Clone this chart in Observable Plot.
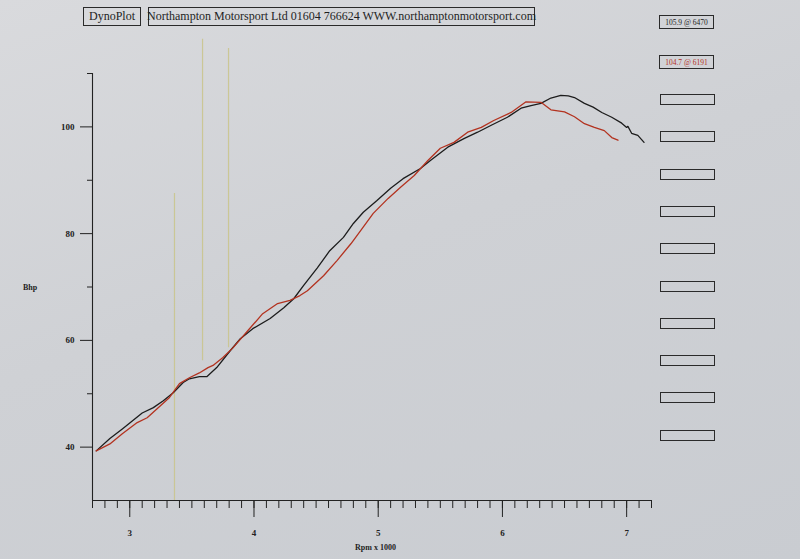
<!DOCTYPE html>
<html>
<head>
<meta charset="utf-8">
<script src="https://cdn.jsdelivr.net/npm/d3@7"></script>
<script src="https://cdn.jsdelivr.net/npm/@observablehq/plot@0.6"></script>
<style>
  html, body { margin: 0; padding: 0; }
  body { width: 800px; height: 559px; overflow: hidden; }
  #page { position: relative; width: 800px; height: 559px;
    background: linear-gradient(160deg, #d9dadd 0%, #cfd1d5 45%, #c9ccd1 100%);
    font-family: "Liberation Serif", "DejaVu Serif", serif; color: #1e1e1e; }
  #page svg { position: absolute; left: 0; top: 0; background: transparent; }
  .box { position: absolute; border: 1px solid #2a2a2a; box-sizing: border-box;
    display: flex; align-items: center; justify-content: center; white-space: nowrap; }
  .hdr { font-size: 12px; top: 7px; height: 19px; }
  .peak { font-size: 7.5px; left: 659px; width: 55px; height: 14px; }
  .slot { left: 660px; width: 55px; height: 11px; }
  .lbl { position: absolute; font-size: 8px; white-space: nowrap; }
</style>
</head>
<body>
<div id="page"></div>
<script>
// Black run
const rpmBlack = [2.73,2.84,2.94,3.02,3.10,3.19,3.27,3.35,3.43,3.48,3.56,3.62,3.70,3.81,3.89,3.99,4.13,4.24,4.32,4.40,4.51,4.61,4.72,4.80,4.88,4.99,5.10,5.20,5.34,5.42,5.56,5.69,5.80,5.91,6.04,6.15,6.23,6.31,6.39,6.47,6.53,6.58,6.66,6.73,6.80,6.88,6.96,7.00,7.01,7.04,7.09,7.14];
const bhpBlack = [39.3,41.6,43.4,44.9,46.4,47.4,48.7,50.2,52.1,52.8,53.2,53.2,54.9,58.1,60.3,62.2,64.1,66.1,67.8,70.3,73.6,76.8,79.3,81.9,84.0,86.2,88.5,90.3,92.2,93.7,96.2,97.8,99.0,100.3,101.8,103.5,104.0,104.4,105.4,105.9,105.8,105.5,104.4,103.7,102.7,101.8,100.7,99.9,100.1,98.8,98.4,97.1];
// Red run
const rpmRed = [2.73,2.84,2.94,3.06,3.14,3.22,3.32,3.40,3.48,3.56,3.63,3.67,3.75,3.83,3.95,4.07,4.19,4.29,4.37,4.43,4.56,4.67,4.78,4.86,4.96,5.08,5.18,5.29,5.40,5.50,5.61,5.72,5.83,5.93,6.07,6.19,6.31,6.39,6.50,6.58,6.66,6.74,6.82,6.88,6.93];
const bhpRed = [39.3,40.6,42.5,44.6,45.5,47.2,49.3,51.9,53.0,53.9,54.9,55.3,56.8,58.6,61.8,65.0,66.9,67.5,68.4,69.3,72.1,75.0,78.1,80.6,83.8,86.6,88.7,90.9,93.7,96.0,97.1,99.0,99.9,101.2,102.7,104.7,104.6,103.2,102.8,101.9,100.6,99.9,99.3,98.0,97.5];
// Yellow marker lines on the sheet
const markerRpm = [3.36, 3.586, 3.795];
const markerTop = [87.5, 116.4, 114.7];
const markerBottom = [30, 56.2, 58.6];
// Ticks
const xMajorTicks = [3, 4, 5, 6, 7];
const xMinorTicks = d3.range(27, 73).map(d => d / 10);
const yMajorTicks = [40, 60, 80, 100];
const yMinorTicks = [50, 70, 90, 110];
// Texts
const titleLeft = "DynoPlot";
const titleRight = "Northampton Motorsport Ltd 01604 766624 WWW.northamptonmotorsport.com";
const peakBlack = "105.9 @ 6470";
const peakRed = "104.7 @ 6191";
const xLabel = "Rpm x 1000";
const yLabel = "Bhp";

const black = rpmBlack.map((r, i) => ({rpm: r, bhp: bhpBlack[i]}));
const red = rpmRed.map((r, i) => ({rpm: r, bhp: bhpRed[i]}));
const markers = markerRpm.map((r, i) => ({rpm: r, top: markerTop[i], bottom: markerBottom[i]}));

const axisFont = {fontFamily: "Liberation Serif", fontSize: 9, fontWeight: "bold"};

const chart = Plot.plot({
  width: 800,
  height: 559,
  marginLeft: 92,
  marginRight: 149,
  marginTop: 73,
  marginBottom: 59,
  style: {background: "transparent", color: "#222", fontFamily: "Liberation Serif", fontSize: "9px"},
  x: {domain: [2.7, 7.2]},
  y: {domain: [30, 110]},
  marks: [
    Plot.ruleX(markers, {x: "rpm", y1: "top", y2: "bottom", stroke: "#c9c489", strokeWidth: 1.2, strokeOpacity: 0.85}),
    Plot.ruleX([2.7], {stroke: "#222", strokeWidth: 1.1}),
    Plot.ruleY([30], {stroke: "#222", strokeWidth: 1.1}),
    Plot.axisX({ticks: xMinorTicks, tickSize: 8, tickFormat: () => "", label: null, stroke: "#222"}),
    Plot.axisX({ticks: xMajorTicks, tickSize: 17, tickPadding: 12, tickFormat: d3.format("d"), label: null, stroke: "#222", fill: "#222", ...axisFont}),
    Plot.axisY({ticks: yMinorTicks, tickSize: 5, tickFormat: () => "", label: null, stroke: "#222"}),
    Plot.axisY({ticks: yMajorTicks, tickSize: 12, tickPadding: 6, tickFormat: d3.format("d"), label: null, stroke: "#222", fill: "#222", ...axisFont}),
    Plot.line(black, {x: "rpm", y: "bhp", stroke: "#1c1c1c", strokeWidth: 1.3}),
    Plot.line(red, {x: "rpm", y: "bhp", stroke: "#b3321f", strokeWidth: 1.3})
  ]
});

const page = document.getElementById("page");
page.appendChild(chart);

function addBox(cls, text, css) {
  const d = document.createElement("div");
  d.className = cls;
  d.textContent = text;
  Object.assign(d.style, css);
  page.appendChild(d);
  return d;
}
addBox("box hdr", titleLeft, {left: "83px", width: "58px"});
addBox("box hdr", titleRight, {left: "148px", width: "387px"});
addBox("box peak", peakBlack, {top: "15px"});
addBox("box peak", peakRed, {top: "55px", color: "#b3321f"});
for (let i = 0; i < 10; i++) addBox("box slot", "", {top: (94 + i * 37.3) + "px"});
addBox("lbl", xLabel, {left: "355px", top: "543px", fontWeight: "bold"});
addBox("lbl", yLabel, {left: "23px", top: "283px", fontWeight: "bold"});
</script>
</body>
</html>
